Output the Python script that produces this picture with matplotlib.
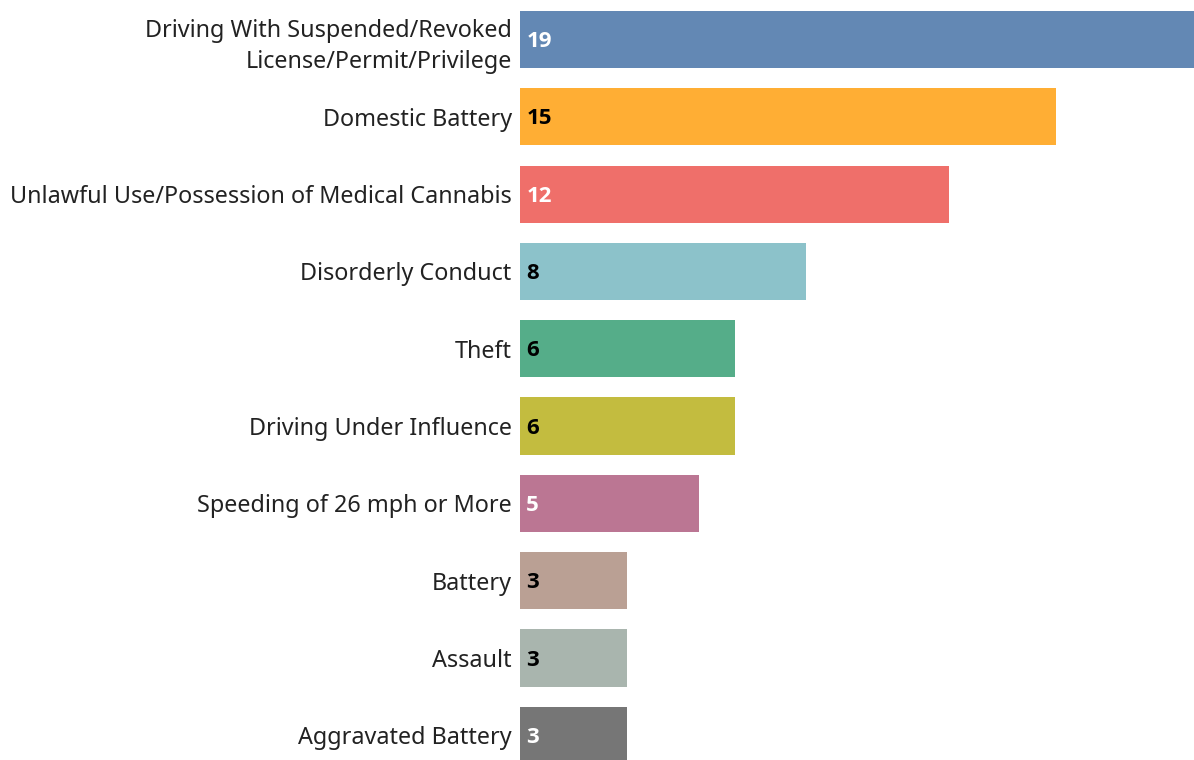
import numpy as np
import matplotlib
matplotlib.use("Agg")
import matplotlib.pyplot as plt

# data
categories = ["Driving With Suspended/Revoked\nLicense/Permit/Privilege",
              "Domestic Battery",
              "Unlawful Use/Possession of Medical Cannabis",
              "Disorderly Conduct",
              "Theft",
              "Driving Under Influence",
              "Speeding of 26 mph or More",
              "Battery",
              "Assault",
              "Aggravated Battery"]
counts = [19, 15, 12, 8, 6, 6, 5, 3, 3, 3]

colors = ["#6388B4", "#FFAE34", "#EF6F6A", "#8CC2CA", "#55AD89",
          "#C3BC3F", "#BB7693", "#BAA094", "#A9B5AE", "#767676"]
label_colors = ["white", "black", "white", "black", "black",
                "black", "white", "black", "black", "white"]

plt.rcParams['font.family'] = ['Noto Sans', 'DejaVu Sans']

W, H = 1194, 760
fig = plt.figure(figsize=(W / 100, H / 100), dpi=100)
ax = fig.add_axes([520 / W, 0, 1 - 520 / W, 1])

y = np.arange(len(categories))
ax.barh(y, counts, height=0.74, color=colors)

ax.set_xlim(0, 674 / 35.75)
ax.set_ylim(9.32, -0.511)

ax.set_yticks(y)
ax.set_yticklabels(categories, fontsize=16.8, color="#222222", ha="right",
                   linespacing=1.4)
ax.tick_params(axis="y", length=0, pad=6)
ax.set_xticks([])
for s in ax.spines.values():
    s.set_visible(False)

# value labels inside the bars
for i, v in enumerate(counts):
    ax.annotate(str(v), (0, i), xytext=(4.5, -1.5), textcoords="offset points",
                va="center", ha="left", fontsize=16, fontweight="bold",
                family=["Open Sans", "DejaVu Sans"], color=label_colors[i])

fig.savefig("out.png", dpi=100)
